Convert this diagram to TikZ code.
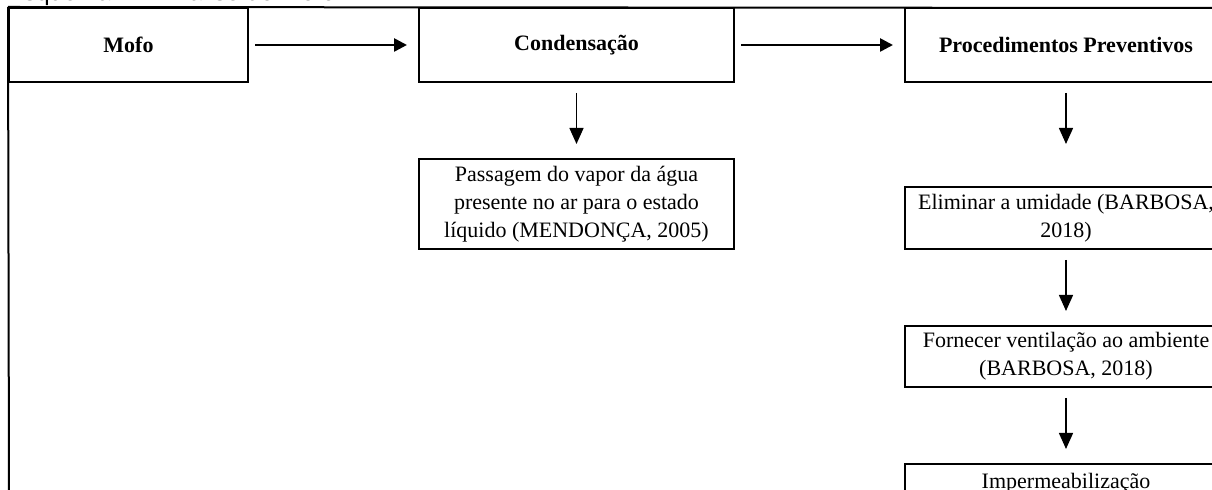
\documentclass[tikz,border=0pt]{standalone}
\usepackage{fontspec}
\setmainfont{Liberation Serif}
\newfontfamily\capfont{Liberation Sans}
\usetikzlibrary{positioning, arrows.meta}

\begin{document}
\begin{tikzpicture}[
     node distance = 37.5pt and 84.5pt,
        hbox/.style = {rectangle, draw, line width=1pt, minimum height=37pt, font=\fontsize{11}{14}\selectfont\bfseries},
        tbox/.style = {rectangle, draw, line width=1pt, align=center, inner sep=1pt, font=\fontsize{11}{14}\selectfont},
        harr/.style = {-{Triangle[length=6.5pt, width=6.5pt]}, line width=1.3pt, shorten <=3pt, shorten >=5.5pt},
        varr/.style = {-{Triangle[length=8pt, width=7pt]}, line width=0.7pt, shorten <=5pt, shorten >=7pt}
                        ]
\useasboundingbox (0,0) rectangle (606pt,-245pt);
\clip (0,0) rectangle (606pt,-245pt);
\node (caption) [anchor=base west, inner sep=0pt, font=\capfont\fontsize{12.3}{14}\selectfont] at (3.5pt,-0.4pt) {Esquema 1 – Análise do mofo};
\node (mofo) [hbox, minimum width=119.5pt] at (64.25pt,-22.5pt) {Mofo};
\node (cond) [hbox, minimum width=157.5pt, right=of mofo] {Condensação};
\node (prev) [hbox, minimum width=161pt, right=of cond] {Procedimentos Preventivos};
\node (pass) [tbox, minimum width=157.5pt, minimum height=45pt, below=of cond] {Passagem do vapor da água\\presente no ar para o estado\\líquido (MENDONÇA, 2005)};
\node (elim) [tbox, minimum width=161pt, minimum height=31pt, below=51.5pt of prev] {Eliminar a umidade (BARBOSA,\\2018)};
\node (forn) [tbox, minimum width=161pt, minimum height=30.5pt, below=of elim] {Fornecer ventilação ao ambiente\\(BARBOSA, 2018)};
\node (imp) [tbox, minimum width=161pt, minimum height=19pt, below=of forn] {Impermeabilização};
\coordinate (topright) at (612pt,-4pt);
\coordinate (leftbottom) at (4.5pt,-250pt);
\draw[line width=1pt] (mofo.north west) -- (topright);
\draw[line width=1pt] (mofo.north west) -- (leftbottom);
\draw[harr] (mofo) to (cond);
\draw[harr] (cond) to (prev);
\draw[varr] (cond) to (pass);
\draw[varr, shorten >=21pt] (prev) to (elim);
\draw[varr] (elim) to (forn);
\draw[varr] (forn) to (imp);
\end{tikzpicture}
\end{document}
